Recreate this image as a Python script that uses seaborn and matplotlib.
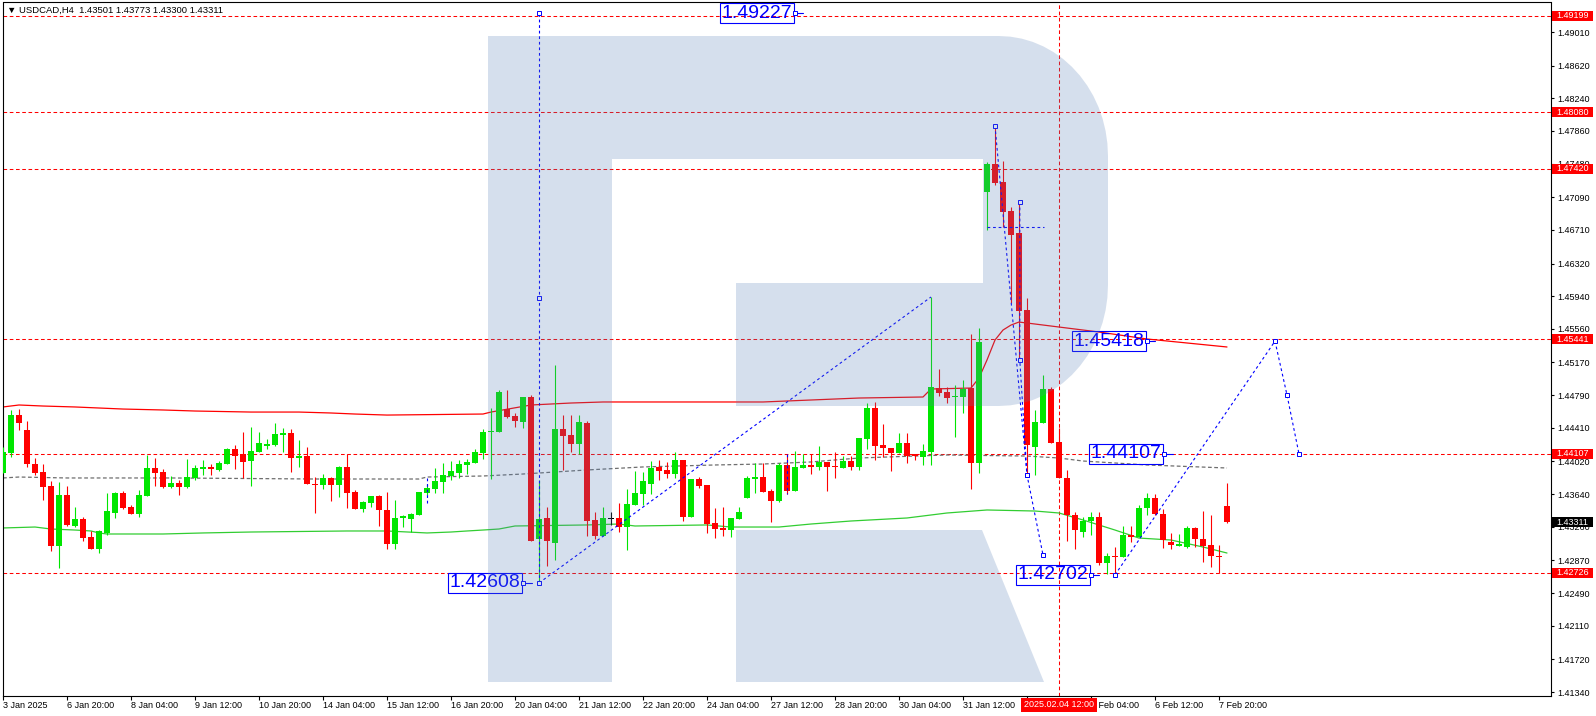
import numpy as np
import matplotlib
matplotlib.use('Agg')
import matplotlib.pyplot as plt
import matplotlib.patches as mpatches
import matplotlib.transforms as mtrans
import seaborn as sns

# USDCAD H4 candles
opens = [1.43886, 1.44118, 1.44560, 1.44385, 1.43990, 1.43897, 1.43735, 1.43038, 1.43630, 1.43270,
         1.43351, 1.43142, 1.43003, 1.43189, 1.43421, 1.43653, 1.43491, 1.43409, 1.43619, 1.43944,
         1.43897, 1.43723, 1.43770, 1.43723, 1.43828, 1.43932, 1.43956, 1.43921, 1.43990, 1.44165,
         1.44107, 1.44025, 1.44130, 1.44200, 1.44211, 1.44327, 1.44351, 1.44060, 1.44083, 1.43758,
         1.43746, 1.43828, 1.43746, 1.43956, 1.43665, 1.43467, 1.43537, 1.43619, 1.43456, 1.43061,
         1.43363, 1.43351, 1.43398, 1.43653, 1.43700, 1.43781, 1.43851, 1.43886, 1.43979, 1.44002,
         1.44118, 1.44362, 1.44362, 1.44629, 1.44548, 1.44478, 1.44769, 1.43119, 1.43363, 1.43072,
         1.44397, 1.44327, 1.44223, 1.44467, 1.43340, 1.43154, 1.43351, 1.43363, 1.43258, 1.43514,
         1.43642, 1.43758, 1.43956, 1.43921, 1.43874, 1.44037, 1.43375, 1.43816, 1.43746, 1.43305,
         1.43247, 1.43223, 1.43351, 1.43595, 1.43816, 1.43839, 1.43677, 1.43560, 1.43979, 1.43677,
         1.43944, 1.43979, 1.43956, 1.44014, 1.43967, 1.43944, 1.44025, 1.43956, 1.44281, 1.44641,
         1.44211, 1.44176, 1.44118, 1.44234, 1.44107, 1.44072, 1.44130, 1.44873, 1.44827, 1.44769,
         1.44769, 1.44873, 1.44002, 1.47151, 1.47476, 1.47267, 1.46930, 1.46675, 1.45780, 1.44188,
         1.44467, 1.44862, 1.44246, 1.43828, 1.43398, 1.43200, 1.43328, 1.43375, 1.42840, 1.42921,
         1.42910, 1.43165, 1.43142, 1.43479, 1.43595, 1.43409, 1.43084, 1.43038, 1.43026, 1.43247,
         1.43119, 1.43049, 1.42921, 1.43501]
highs = [1.44188, 1.44618, 1.44629, 1.44490, 1.44060, 1.43990, 1.43793, 1.43781, 1.43735, 1.43491,
         1.43375, 1.43212, 1.43223, 1.43653, 1.43665, 1.43677, 1.43514, 1.43688, 1.44095, 1.44060,
         1.43932, 1.43851, 1.43804, 1.44048, 1.43979, 1.44037, 1.43990, 1.44025, 1.44176, 1.44211,
         1.44362, 1.44420, 1.44362, 1.44281, 1.44467, 1.44409, 1.44397, 1.44269, 1.44188, 1.43839,
         1.43874, 1.43839, 1.43967, 1.44107, 1.43688, 1.43560, 1.43619, 1.43630, 1.43665, 1.43572,
         1.43398, 1.43421, 1.43665, 1.43758, 1.43944, 1.44002, 1.44025, 1.44037, 1.44048, 1.44165,
         1.44397, 1.44641, 1.44850, 1.44850, 1.44583, 1.44769, 1.44792, 1.43804, 1.43491, 1.45141,
         1.44560, 1.44560, 1.44560, 1.44490, 1.43433, 1.43491, 1.43433, 1.43537, 1.43700, 1.43909,
         1.43897, 1.44025, 1.44037, 1.44014, 1.44130, 1.44037, 1.43816, 1.43839, 1.43746, 1.43479,
         1.43491, 1.43363, 1.43491, 1.43851, 1.44002, 1.44002, 1.43700, 1.44002, 1.44107, 1.44141,
         1.44107, 1.44107, 1.44200, 1.44014, 1.44130, 1.44083, 1.44083, 1.44292, 1.44699, 1.44711,
         1.44455, 1.44176, 1.44351, 1.44351, 1.44107, 1.44223, 1.45931, 1.45094, 1.44885, 1.44908,
         1.44966, 1.45501, 1.45571, 1.47500, 1.47906, 1.47511, 1.46977, 1.47035, 1.45919, 1.44618,
         1.45025, 1.44885, 1.44409, 1.43921, 1.43433, 1.43375, 1.43433, 1.43433, 1.42956, 1.43026,
         1.43270, 1.43270, 1.43514, 1.43653, 1.43642, 1.43467, 1.43189, 1.43177, 1.43270, 1.43258,
         1.43444, 1.43398, 1.43049, 1.43773]
lows = [1.43886, 1.44072, 1.44385, 1.43956, 1.43863, 1.43572, 1.42979, 1.42782, 1.43270, 1.43258,
        1.43096, 1.43003, 1.42956, 1.43165, 1.43363, 1.43467, 1.43409, 1.43375, 1.43619, 1.43735,
        1.43711, 1.43711, 1.43630, 1.43711, 1.43804, 1.43863, 1.43863, 1.43909, 1.43990, 1.43932,
        1.43828, 1.43735, 1.44130, 1.44165, 1.44200, 1.44130, 1.43897, 1.43956, 1.43758, 1.43421,
        1.43700, 1.43560, 1.43607, 1.43479, 1.43467, 1.43433, 1.43491, 1.43270, 1.43003, 1.43003,
        1.43258, 1.43200, 1.43398, 1.43630, 1.43653, 1.43653, 1.43804, 1.43828, 1.43874, 1.44002,
        1.44048, 1.43816, 1.44362, 1.44525, 1.44420, 1.44409, 1.43096, 1.42608, 1.42805, 1.42875,
        1.43921, 1.44130, 1.44107, 1.43154, 1.43119, 1.43154, 1.43282, 1.43200, 1.42991, 1.43514,
        1.43514, 1.43642, 1.43804, 1.43828, 1.43828, 1.43328, 1.43375, 1.43711, 1.43189, 1.43130,
        1.43154, 1.43142, 1.43351, 1.43595, 1.43653, 1.43665, 1.43316, 1.43549, 1.43642, 1.43677,
        1.43944, 1.43874, 1.43921, 1.43677, 1.43828, 1.43944, 1.43921, 1.43921, 1.44165, 1.44037,
        1.44072, 1.43909, 1.44118, 1.44002, 1.44037, 1.43979, 1.43979, 1.44781, 1.44699, 1.44304,
        1.44583, 1.43700, 1.43886, 1.46709, 1.47232, 1.46744, 1.45861, 1.45222, 1.43886, 1.43863,
        1.44467, 1.44234, 1.43828, 1.43096, 1.43003, 1.43142, 1.43165, 1.42817, 1.42712, 1.42702,
        1.42910, 1.43084, 1.43142, 1.43398, 1.43398, 1.43014, 1.43003, 1.43038, 1.43014, 1.43026,
        1.42852, 1.42794, 1.42724, 1.43300]
closes = [1.44130, 1.44560, 1.44467, 1.43990, 1.43886, 1.43723, 1.43038, 1.43630, 1.43282, 1.43351,
          1.43130, 1.43003, 1.43212, 1.43444, 1.43653, 1.43479, 1.43409, 1.43630, 1.43944, 1.43886,
          1.43723, 1.43770, 1.43723, 1.43839, 1.43944, 1.43956, 1.43932, 1.44002, 1.44165, 1.44083,
          1.44014, 1.44141, 1.44234, 1.44223, 1.44339, 1.44351, 1.44060, 1.44083, 1.43758, 1.43746,
          1.43828, 1.43746, 1.43956, 1.43653, 1.43467, 1.43549, 1.43619, 1.43456, 1.43061, 1.43363,
          1.43386, 1.43409, 1.43665, 1.43711, 1.43793, 1.43863, 1.43909, 1.43990, 1.44014, 1.44130,
          1.44362, 1.44374, 1.44827, 1.44537, 1.44490, 1.44769, 1.43096, 1.43351, 1.43096, 1.44397,
          1.44316, 1.44223, 1.44478, 1.43328, 1.43154, 1.43363, 1.43351, 1.43258, 1.43526, 1.43653,
          1.43793, 1.43944, 1.43909, 1.43874, 1.44037, 1.43375, 1.43816, 1.43735, 1.43293, 1.43235,
          1.43223, 1.43363, 1.43433, 1.43828, 1.43839, 1.43665, 1.43560, 1.43979, 1.43677, 1.43956,
          1.43979, 1.43956, 1.44014, 1.43956, 1.43956, 1.44025, 1.43956, 1.44292, 1.44641, 1.44200,
          1.44176, 1.44118, 1.44234, 1.44083, 1.44083, 1.44141, 1.44885, 1.44815, 1.44757, 1.44781,
          1.44862, 1.44002, 1.45408, 1.47476, 1.47256, 1.46919, 1.46651, 1.45768, 1.44211, 1.44478,
          1.44862, 1.44234, 1.43828, 1.43398, 1.43223, 1.43328, 1.43375, 1.42840, 1.42921, 1.42910,
          1.43165, 1.43142, 1.43479, 1.43595, 1.43409, 1.43107, 1.43049, 1.43061, 1.43247, 1.43119,
          1.43038, 1.42921, 1.42910, 1.43311]

# moving averages (vertices at bar index)
red_ma_x = [0, 2, 5, 9, 12, 15, 20, 24, 31, 37, 41, 44, 48, 60, 61, 66, 71, 75, 95, 101,
            107, 115, 116, 121, 122, 123, 124, 125, 126, 127, 129, 132, 137, 143, 153]
red_ma_y = [1.44653, 1.44676, 1.44664, 1.44653, 1.44641, 1.44629, 1.44618, 1.44606, 1.44594, 1.44594,
            1.44583, 1.44571, 1.44559, 1.44571, 1.44594, 1.44676, 1.44699, 1.44711, 1.44711, 1.44734,
            1.44757, 1.44769, 1.44862, 1.44873, 1.44990, 1.45199, 1.45431, 1.45547, 1.45605, 1.45640,
            1.45617, 1.45582, 1.45524, 1.45443, 1.45350]
green_ma_x = [0, 4, 6, 9, 11, 12, 13, 20, 25, 31, 43, 48, 53, 56, 58, 60, 62, 64, 73, 77,
              79, 88, 91, 97, 101, 106, 113, 118, 123, 129, 132, 135, 139, 142, 146, 150, 153]
green_ma_y = [1.43247, 1.43258, 1.43235, 1.43223, 1.43212, 1.43189, 1.43177, 1.43177, 1.43189, 1.43200,
              1.43212, 1.43212, 1.43189, 1.43200, 1.43212, 1.43223, 1.43235, 1.43270, 1.43282, 1.43293,
              1.43270, 1.43282, 1.43258, 1.43258, 1.43293, 1.43328, 1.43363, 1.43421, 1.43456, 1.43444,
              1.43421, 1.43340, 1.43223, 1.43130, 1.43107, 1.43026, 1.42956]
gray_ma_x = [0, 2, 8, 21, 39, 52, 53, 60, 65, 73, 80, 89, 95, 101, 107, 114, 118, 128, 132, 135, 143, 153]
gray_ma_y = [1.43828, 1.43839, 1.43828, 1.43828, 1.43816, 1.43816, 1.43839, 1.43851, 1.43874, 1.43921,
             1.43956, 1.43979, 1.43990, 1.44014, 1.44060, 1.44083, 1.44095, 1.44083, 1.44060, 1.44025,
             1.43979, 1.43944]

levels = [1.49199, 1.48080, 1.47420, 1.45441, 1.44107, 1.42726]
last_price = 1.43311
marker_bar = 132

yticks = [1.49010, 1.48620, 1.48240, 1.47860, 1.47480, 1.47090, 1.46710, 1.46320, 1.45940, 1.45560,
          1.45170, 1.44790, 1.44410, 1.44020, 1.43640, 1.43260, 1.42870, 1.42490, 1.42110, 1.41720, 1.41340]
xtick_pos = list(range(0, 153, 8))
# the 3 Feb 20:00 label sits under the red date tag, so it is left blank
xtick_labels = ['3 Jan 2025', '6 Jan 20:00', '8 Jan 04:00', '9 Jan 12:00', '10 Jan 20:00',
                '14 Jan 04:00', '15 Jan 12:00', '16 Jan 20:00', '20 Jan 04:00', '21 Jan 12:00',
                '22 Jan 20:00', '24 Jan 04:00', '27 Jan 12:00', '28 Jan 20:00', '30 Jan 04:00',
                '31 Jan 12:00', '', '5 Feb 04:00', '6 Feb 12:00', '7 Feb 20:00']

# analyst drawing (blue dotted)
path_up_x = [67, 116]
path_up_y = [1.42608, 1.45931]
vert_x = [67, 67, 67]
vert_y = [1.42608, 1.45919, 1.49227]
drop_x = [124, 128, 130]
drop_y = [1.47920, 1.43863, 1.42933]
drop2_x = [127.1, 127.1, 128]
drop2_y = [1.47035, 1.45199, 1.43863]
range_x = [123, 130.1]
range_y = [1.46744, 1.46744]
fcst_x = [139, 159, 160.5, 162]
fcst_y = [1.42702, 1.45418, 1.44792, 1.44107]
tag_text = ['1.49227', '1.42608', '1.45418', '1.44107', '1.42702']
tag_x = [98.75, 64.8, 142.75, 144.9, 135.75]
tag_y = [1.49227, 1.42608, 1.45418, 1.44107, 1.42702]

sns.set_style('white')
plt.rcParams['font.family'] = ['Liberation Sans', 'DejaVu Sans']

W, H = 1596, 716
fig = plt.figure(figsize=(W / 100, H / 100), dpi=100)
ax = fig.add_axes([2.5 / W, (H - 695.5) / H, (1551 - 2.5) / W, (695.5 - 2.5) / H])
ax.set_xlim(-0.0625, 193.5)
ax.set_ylim(1.413003, 1.49353)
px = mtrans.Affine2D().scale(1 / W, -1 / H).translate(0, 1) + fig.transFigure

# levels
for lv in levels:
    ax.axhline(lv, color='#ff0000', lw=0.75, ls=(0, (3.5, 2.5)), zorder=1)
ax.axvline(marker_bar, color='#ff0000', lw=0.75, ls=(0, (3.5, 2.5)), zorder=1)

# moving averages
sns.lineplot(x=red_ma_x, y=red_ma_y, ax=ax, color='#ff0000', lw=0.9, sort=False, zorder=2)
sns.lineplot(x=green_ma_x, y=green_ma_y, ax=ax, color='#32cd32', lw=0.9, sort=False, zorder=2)
sns.lineplot(x=gray_ma_x, y=gray_ma_y, ax=ax, color='#6e6e6e', lw=0.9, sort=False,
             linestyle=(0, (3, 2)), zorder=2)

# candles
idx = np.arange(len(opens))
o, h, l, c = map(np.array, (opens, highs, lows, closes))
cols = np.where(c > o, '#00e600', np.where(c < o, '#ff0000', '#000000'))
ax.vlines(idx, l, h, colors=cols, lw=0.8, zorder=3)
ax.bar(idx, np.maximum(np.abs(c - o), 0.00012), bottom=np.minimum(o, c), width=0.65,
       color=cols, linewidth=0, zorder=4)

# blue drawing
bl = dict(color='#0000ff', lw=0.8, ls=(0, (2.5, 2.5)), zorder=5)
mk = dict(marker='s', ms=3, mfc='white', mec='#0000ff', mew=0.7)
ax.plot(path_up_x, path_up_y, **bl)
ax.plot(vert_x, vert_y, **bl, **mk)
ax.plot(drop_x, drop_y, **bl, **mk)
ax.plot(drop2_x, drop2_y, **bl, **mk)
ax.plot(range_x, range_y, **bl)
ax.plot(fcst_x, fcst_y, **bl, **mk)
ax.plot([53, 53], [1.43828, 1.43514], **bl)
ax.plot([98, 98], [1.44107, 1.43642], **bl)
for t, x, y in zip(tag_text, tag_x, tag_y):
    ax.text(x - 0.1, y, t, ha='right', va='center', fontsize=14, color='#0000ff', zorder=6,
            bbox=dict(boxstyle='square,pad=0.08', fc='none', ec='#0000ff', lw=0.8))
    ax.plot([x, x + 1.3], [y, y], color='#0000ff', lw=0.8, zorder=6)
    ax.plot([x + 0.25], [y], **mk, zorder=6)

# watermark "R"
bowl = [(488, 36), (999, 36)]
th = np.linspace(np.pi / 2, 0, 16)
bowl += [(999 + 109 * np.cos(t), 156 - 120 * np.sin(t)) for t in th]
th = np.linspace(0, -np.pi / 2, 16)
bowl += [(999 + 109 * np.cos(t), 285 - 121 * np.sin(t)) for t in th]
bowl += [(736, 406), (736, 283), (983, 283), (983, 159), (612, 159), (612, 682), (488, 682)]
leg = [(736, 530), (982, 530), (1044, 682), (736, 682)]
for poly in (bowl, leg):
    ax.add_patch(mpatches.Polygon(poly, closed=True, transform=px, fc='#567fb5', ec='none',
                                  alpha=0.243, zorder=7))

# axes styling
for s in ax.spines.values():
    s.set_color('black')
    s.set_linewidth(0.8)
ax.yaxis.tick_right()
ax.set_yticks(yticks)
ax.set_yticklabels([f'{v:.5f}' for v in yticks])
ax.set_xticks(xtick_pos)
ax.set_xticklabels(xtick_labels)
for lbl in ax.get_xticklabels():
    lbl.set_ha('left')
ax.tick_params(axis='y', direction='out', length=2.2, width=0.8, pad=2.2, labelsize=6.5,
               colors='black', left=False, right=True)
ax.tick_params(axis='x', direction='out', length=2.9, width=0.8, pad=1.0, labelsize=6.5,
               colors='black', bottom=True)
ax.set_xlabel('')
ax.set_ylabel('')

# price tags on the right scale
bt = mtrans.blended_transform_factory(ax.transAxes, ax.transData)
axw = 1548.5
tags = [(lv, '#ff0000') for lv in levels] + [(last_price, '#000000')]
for val, fc in tags:
    ax.add_patch(mpatches.Rectangle((1 + 1 / axw, val - 0.000581), 41 / axw, 0.001162,
                                    transform=bt, fc=fc, ec='none', clip_on=False, zorder=10))
    ax.text(1 + 21.5 / axw, val, f'{val:.5f}', transform=bt, ha='center', va='center',
            fontsize=6.5, color='white', clip_on=False, zorder=11)

# date tag under the cursor line
bx = mtrans.blended_transform_factory(ax.transData, ax.transAxes)
ax.text(marker_bar, -0.0137, '2025.02.04 12:00', transform=bx, ha='center', va='center',
        fontsize=6.5, color='white', zorder=11, clip_on=False,
        bbox=dict(boxstyle='square,pad=0.3', fc='#ff0000', ec='none'))

ax.text(4.5 / axw, 1 - 8 / 693, '\u25bc USDCAD,H4  1.43501 1.43773 1.43300 1.43311',
        transform=ax.transAxes, ha='left', va='center', fontsize=6.8, color='black', zorder=11)

fig.savefig('out.png', dpi=100)
